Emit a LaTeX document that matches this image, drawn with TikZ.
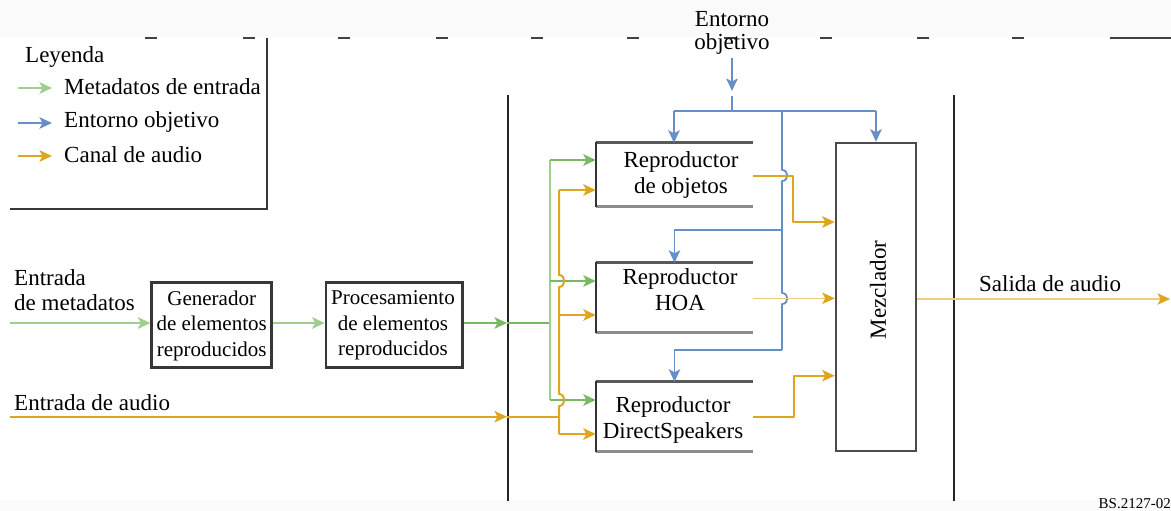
\documentclass[tikz,border=0pt]{standalone}
\usepackage{fontspec}
\setmainfont{Liberation Serif}
\usetikzlibrary{arrows.meta,calc}

\definecolor{gline}{RGB}{122,184,100}
\definecolor{glight}{RGB}{160,206,144}
\definecolor{bline}{RGB}{104,142,200}
\definecolor{oline}{RGB}{222,165,32}
\definecolor{olight}{RGB}{238,204,125}
\definecolor{edge}{RGB}{55,55,55}

\tikzset{
  tip/.style={-{Stealth[length=12.5pt,width=11.5pt,inset=3pt]}},
  otip/.style={-{Stealth[length=12.5pt,width=11.5pt,inset=3pt,color=oline]}},
  metaline/.style={draw=gline,line width=2pt,line join=round},
  metalight/.style={draw=glight,line width=2.6pt,line join=round},
  envline/.style={draw=bline,line width=1.8pt,line join=round},
  audline/.style={draw=oline,line width=2pt,line join=round},
  audthin/.style={draw=olight,line width=1.2pt},
  sepline/.style={draw=black!85,line width=2pt},
  lbl/.style={inner sep=0pt,font=\fontsize{23}{25.5}\selectfont},
  boxlbl/.style={inner sep=0pt,align=center,font=\fontsize{21}{25.5}\selectfont},
  pbox/.style={draw=edge,line width=2.5pt,minimum height=85.4pt},
  rbox/.style={minimum width=157pt,inner sep=0pt},
}

\begin{document}
\begin{tikzpicture}[x=1pt,y=-1pt]
\useasboundingbox (0,0) rectangle (1171,511);

% faint page strips and dashed rule along the top
\fill[black!2] (0,0) rectangle (1171,37);
\fill[black!2] (0,500) rectangle (1171,511);
\foreach \x in {145,243,338,436,531,627,724,820,917,1012}
  \draw[black!75,line width=2pt] (\x,38) -- ++(12,0);
\draw[black!75,line width=2pt] (1110,38) -- (1171,38);

% legend
\draw[edge,line width=2pt] (267,38) -- (267,209) -- (10,209);
\node[lbl,anchor=base west] (leg) at (25,63) {Leyenda};
\node[lbl,anchor=base west] (legm) at (64,95) {Metadatos de entrada};
\node[lbl,anchor=base west] (lege) at (64,128) {Entorno objetivo};
\node[lbl,anchor=base west] (lega) at (64,162) {Canal de audio};
\coordinate (lm0) at (18,88);  \coordinate (lm1) at (52,88);
\coordinate (le0) at (18,123); \coordinate (le1) at (52,123);
\coordinate (la0) at (18,156); \coordinate (la1) at (52,156);
\draw[metalight,tip] (lm0) -- (lm1);
\draw[envline,tip] (le0) -- (le1);
\draw[audline,tip] (la0) -- (la1);

% stage separators
\draw[sepline] (508,95) -- (508,501);
\draw[sepline] (954,95) -- (954,501);

% input side
\node[lbl,anchor=north west,align=left] (metain) at (14,269.3) {Entrada\\de metadatos};
\node[lbl,anchor=base west] (audin) at (14,410) {Entrada de audio};
\node[pbox,minimum width=120pt] (gen) at (211.7,325) {};
\node[boxlbl] (gent) at (211.7,325.6) {Generador\\de elementos\\reproducidos};
\node[pbox,minimum width=136.7pt] (proc) at (394.3,325) {};
\node[boxlbl] (proct) at (393,325.6) {Procesamiento\\de elementos\\reproducidos};

% renderers (open on the right)
\node[rbox,minimum height=63pt] (obj) at (674.5,174.5) {};
\node[rbox,minimum height=69pt] (hoa) at (674.5,297.5) {};
\node[rbox,minimum height=69pt] (ds)  at (674.5,416.5) {};
\foreach \b in {obj,hoa,ds}{
  \draw[black!65,line width=3pt] (\b.north west) -- (\b.north east);
  \draw[black!45,line width=3pt] (\b.south west) -- (\b.south east);
  \draw[black!80,line width=2.5pt,line cap=rect] (\b.north west) -- (\b.south west);
}
\node[lbl,align=center] (objt) at (681,175.2) {Reproductor\\de objetos};
\node[lbl,align=center] (hoat) at (680,289.6) {Reproductor\\HOA};
\node[lbl,align=center] (dst)  at (673,420.2) {Reproductor\\DirectSpeakers};

% mixer
\node[draw=black!70,line width=2.5pt,minimum width=80pt,minimum height=308pt,inner sep=0pt] (mix) at (876,297) {};
\node[lbl,rotate=90] (mixt) at (878,290) {Mezclador};

% output side
\node[lbl,anchor=base west] (salida) at (979,291) {Salida de audio};
\node[inner sep=0pt,anchor=base east,font=\fontsize{15}{17}\selectfont] (ref) at (1171,508) {BS.2127-02};

% target environment label
\node[lbl,align=center,font=\fontsize{23}{23}\selectfont] (ent) at (732,33.4) {Entorno\\objetivo};

% metadata path
\coordinate (min) at (10,323);
\coordinate (gin) at (507,323);
\coordinate (gj)  at (550,323);
\draw[metalight,tip] (min) -- (gen.west |- min);
\draw[metalight,tip] (gen.east |- min) -- (proc.west |- min);
\draw[metaline,tip] (proc.east |- min) -- (gin);
\draw[metaline] (gin) -- (gj);
\coordinate (g1) at (550,160);
\coordinate (g2) at (550,281);
\coordinate (g3) at (550,400);
\draw[metalight,line width=2pt] (g1) -- (g3);
\draw[metaline,tip] (g1) -- (g1 -| obj.west);
\draw[metaline,tip] (g2) -- (g2 -| hoa.west);
\draw[metaline,tip] (g3) -- (g3 -| ds.west);

% audio input path
\coordinate (ain)  at (10,416.7);
\coordinate (aend) at (507,416.7);
\coordinate (oj)   at (559,416.7);
\draw[audline,tip] (ain) -- (aend);
\draw[audline] (aend) -- (oj);
\coordinate (o1) at (559,190);
\coordinate (o2) at (559,315);
\coordinate (o3) at (559,434);
\draw[audline] (o1) -- (559,275) .. controls (566,275) and (566,287) .. (559,287)
  -- (559,394) .. controls (566,394) and (566,406) .. (559,406) -- (o3);
\draw[audline,tip] (o1) -- (o1 -| obj.west);
\draw[audline,tip] (o2) -- (o2 -| hoa.west);
\draw[audline,tip] (o3) -- (o3 -| ds.west);

% target environment distribution
\coordinate (bt)  at (732,91);
\coordinate (bt2) at (732,96);
\coordinate (bj)  at (732,111);
\coordinate (bl)  at (674,111);
\coordinate (br)  at (876,111);
\coordinate (bk)  at (782,111);
\coordinate (b2)  at (782,230);
\coordinate (bb)  at (782,350);
\draw[envline,tip,shorten <=3pt] (ent.south) -- (bt);
\draw[envline] (bt2) -- (bj);
\draw[envline] (bl) -- (br);
\draw[envline,tip] (bl) -- (bl |- obj.north);
\draw[envline,tip] (br) -- (br |- mix.north);
\draw[envline] (bk) -- (782,170) .. controls (789,170) and (789,181) .. (782,181)
  -- (782,293) .. controls (789,293) and (789,304) .. (782,304) -- (bb);
\draw[envline,tip] (b2) -| (hoa.north);
\draw[envline,tip] (bb) -| (ds.north);

% renderer outputs into the mixer
\coordinate (oo1)  at (793,175.7);
\coordinate (oo1b) at (793,222);
\coordinate (oo2)  at (800,298.3);
\coordinate (oo3)  at (794,416.7);
\coordinate (oo3b) at (794,375.7);
\draw[audline,tip] (obj.east |- oo1) -- (oo1) -- (oo1b) -- (mix.west |- oo1b);
\draw[audthin,otip] (hoa.east |- oo2) -- (mix.west |- oo2);
\draw[audline,tip] (ds.east |- oo3) -- (oo3) -- (oo3b) -- (mix.west |- oo3b);

% mixer output
\coordinate (send) at (1170,299);
\draw[audthin,otip] (mix.east |- send) -- (send);
\end{tikzpicture}
\end{document}
